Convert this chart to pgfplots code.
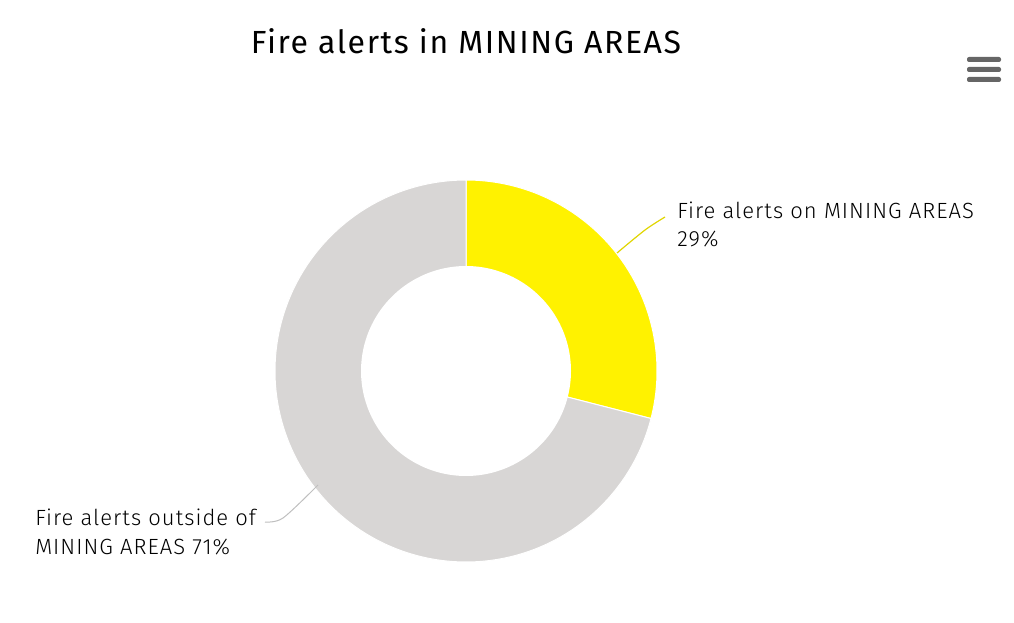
\documentclass[border=0pt]{standalone}
\usepackage{pgfplots}
\pgfplotsset{compat=1.18}
\usepackage{pgfplotstable}
\usepackage{fontspec}
\setmainfont{Fira Sans}
\newfontfamily\titlefont{Fira Sans}[LetterSpace=5]
\newfontfamily\lightfont{Fira Sans}[UprightFont=* Light, LetterSpace=4.7]
\definecolor{sliceyellow}{HTML}{FFF200}
\definecolor{slicegray}{HTML}{D8D6D5}
\definecolor{menugray}{HTML}{666666}
\pgfplotstableread{
label value
on 29
outside 71
}\slices
\begin{document}
\begin{tikzpicture}
\pgfplotstablegetelem{0}{value}\of\slices
\pgfmathsetmacro{\va}{\pgfplotsretval}
\pgfmathsetmacro{\aend}{90-3.6*\va}
\begin{axis}[
  x=0.75pt, y=0.75pt,
  xmin=0, xmax=1014, ymin=0, ymax=622,
  scale only axis, hide axis, clip=false,
]
\path (axis cs:0,0) rectangle (axis cs:1014,622);
% slices
\addplot[fill=sliceyellow, draw=white, line width=0.75pt, domain=90:\aend, samples=120, variable=\t]
  ({466+191*cos(\t)},{251+191*sin(\t)}) -- (axis cs:466,251) -- cycle;
\addplot[fill=slicegray, draw=white, line width=0.75pt, domain=\aend:-270, samples=240, variable=\t]
  ({466+191*cos(\t)},{251+191*sin(\t)}) -- (axis cs:466,251) -- cycle;
\addplot[fill=white, draw=none, domain=0:360, samples=200, variable=\t]
  ({466+105*cos(\t)},{251+105*sin(\t)}) -- cycle;
% connectors
\addplot[sliceyellow!80!black!60!sliceyellow, line width=0.9pt, smooth] coordinates {(617,369) (645,392) (665,405)};
\addplot[black!25, line width=0.75pt, smooth] coordinates {(265,100) (283,104) (318,137)};
% labels
\node[anchor=base west, inner sep=0, font=\lightfont\fontsize{16.5pt}{18pt}\selectfont] at (axis cs:677,403) {Fire alerts on MINING AREAS};
\node[anchor=base west, inner sep=0, font=\lightfont\fontsize{16.5pt}{18pt}\selectfont] at (axis cs:677,375) {29\%};
\node[anchor=base west, inner sep=0, font=\lightfont\fontsize{16.5pt}{18pt}\selectfont] at (axis cs:35,97) {Fire alerts outside of};
\node[anchor=base west, inner sep=0, font=\lightfont\fontsize{16.5pt}{18pt}\selectfont] at (axis cs:35,68) {MINING AREAS 71\%};
% title
\node[anchor=base, inner sep=0, font=\titlefont\fontsize{24pt}{28pt}\selectfont] at (axis cs:466,568) {Fire alerts in MINING AREAS};
% menu icon
\fill[menugray, rounded corners=1.5pt] (axis cs:967,560) rectangle (axis cs:1001,565);
\fill[menugray, rounded corners=1.5pt] (axis cs:967,550) rectangle (axis cs:1001,555);
\fill[menugray, rounded corners=1.5pt] (axis cs:967,540) rectangle (axis cs:1001,545);
\end{axis}
\end{tikzpicture}
\end{document}
